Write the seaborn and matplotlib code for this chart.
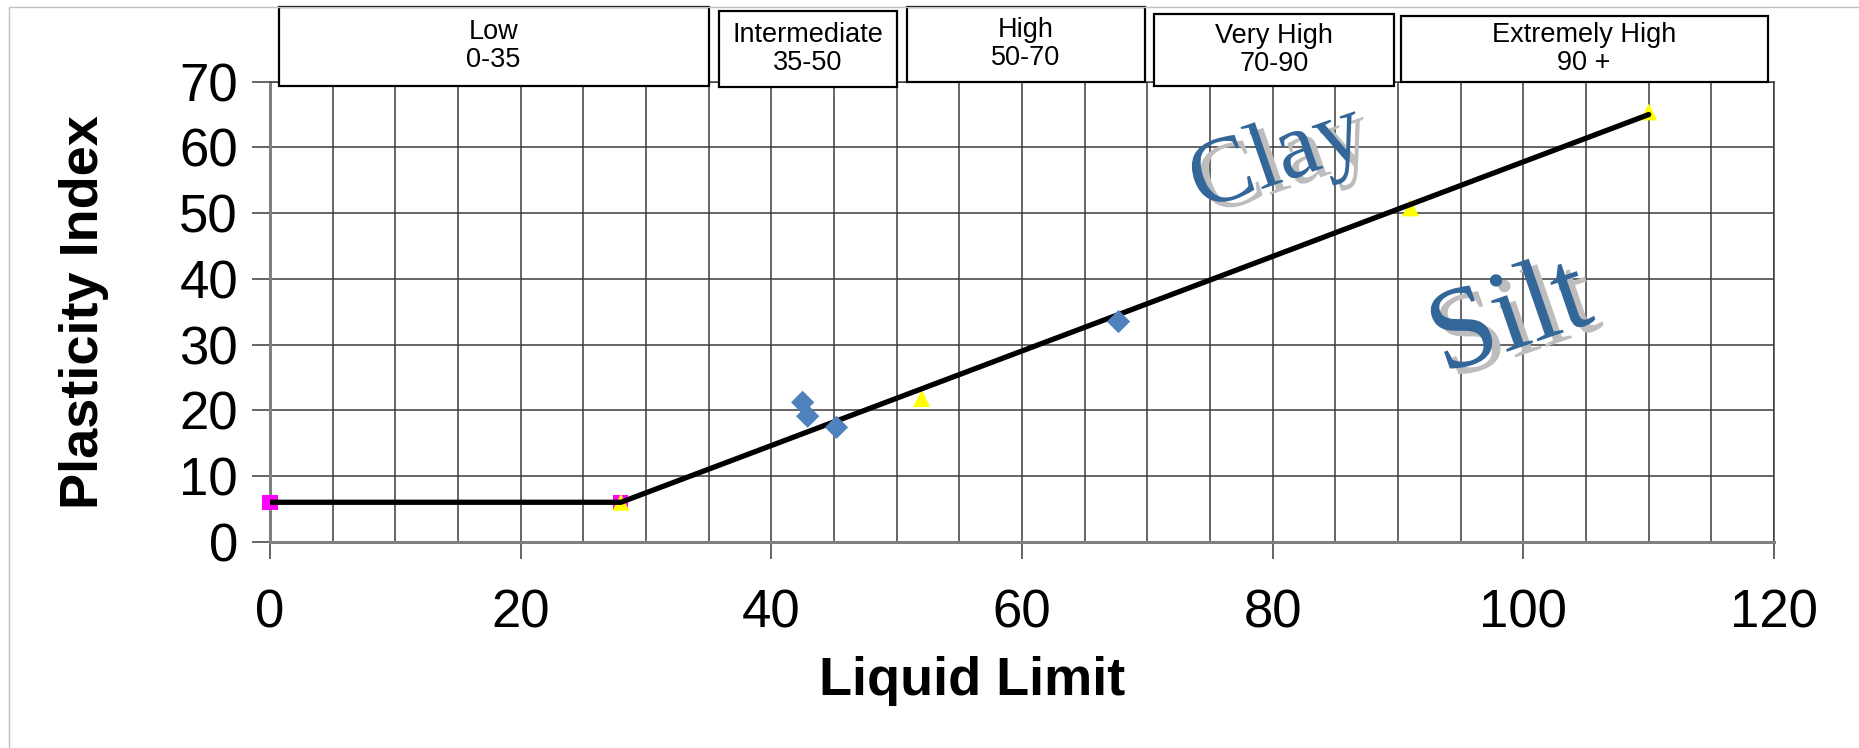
import matplotlib
matplotlib.use("Agg")

import matplotlib.pyplot as plt
import matplotlib.patheffects as pe
from matplotlib.patches import Rectangle
from matplotlib.ticker import MultipleLocator
import seaborn as sns
import pandas as pd

# sample points (blue diamonds)
sample_ll = [42.5, 42.9, 45.2, 67.7]
sample_pi = [21.2, 19.1, 17.4, 33.5]

# A-line break points (magenta squares)
square_ll = [0, 28]
square_pi = [6, 6]

# A-line reference points (yellow triangles)
tri_ll = [28, 52, 91, 110]
tri_pi = [6, 21.8, 50.8, 65.4]

# A-line itself
aline_ll = [0, 28, 110]
aline_pi = [6, 6, 65]

# plasticity zones along the top
zone_names = ["Low", "Intermediate", "High", "Very High", "Extremely High"]
zone_ranges = ["0-35", "35-50", "50-70", "70-90", "90 +"]
zone_start = [0, 35, 50, 70, 90]
zone_end = [35, 50, 70, 90, 120]

x_ticks = [0, 20, 40, 60, 80, 100, 120]
y_ticks = [0, 10, 20, 30, 40, 50, 60, 70]

sns.set_theme(style="white")
plt.rcParams['font.family'] = ['Liberation Sans', 'DejaVu Sans']

fig = plt.figure(figsize=(18.59, 7.48), dpi=100)
ax = fig.add_axes([0.1452, 0.2758, 0.8091, 0.615])

df_line = pd.DataFrame({"ll": aline_ll, "pi": aline_pi})
df_sq = pd.DataFrame({"ll": square_ll, "pi": square_pi})
df_tri = pd.DataFrame({"ll": tri_ll, "pi": tri_pi})
df_smp = pd.DataFrame({"ll": sample_ll, "pi": sample_pi})

sns.scatterplot(data=df_sq, x="ll", y="pi", marker="s", s=120, color="#ff00ff",
                edgecolor="none", ax=ax, zorder=3, clip_on=False)
sns.scatterplot(data=df_tri, x="ll", y="pi", marker="^", s=150, color="#ffff00",
                edgecolor="none", ax=ax, zorder=4, clip_on=False)
sns.lineplot(data=df_line, x="ll", y="pi", sort=False, estimator=None, color="black",
             linewidth=3.8, ax=ax, zorder=5)
sns.scatterplot(data=df_smp, x="ll", y="pi", marker="D", s=140, color="#4f81bd",
                edgecolor="none", ax=ax, zorder=6, clip_on=False)

ax.set_xlim(0, 120)
ax.set_ylim(0, 70)
ax.set_xticks(x_ticks)
ax.set_yticks(y_ticks)
ax.xaxis.set_minor_locator(MultipleLocator(5))
ax.grid(True, which="both", axis="x", color="#3c3c3c", linewidth=1.1)
ax.grid(True, which="major", axis="y", color="#3c3c3c", linewidth=1.1)
ax.set_axisbelow(True)

for side in ["top", "right"]:
    ax.spines[side].set_color("#3c3c3c")
    ax.spines[side].set_linewidth(1.1)
for side in ["left", "bottom"]:
    ax.spines[side].set_color("#808080")
    ax.spines[side].set_linewidth(2.2)

ax.tick_params(axis="x", which="major", direction="out", length=12, width=1.2,
               color="#4a4a4a", labelsize=38, pad=22, bottom=True)
ax.tick_params(axis="x", which="minor", length=0)
ax.tick_params(axis="y", which="major", direction="out", length=13, width=1.2,
               color="#4a4a4a", labelsize=38, pad=10, left=True)

ax.set_xlabel("Liquid Limit", fontsize=39, fontweight="bold", color="black")
ax.set_ylabel("Plasticity Index", fontsize=39, fontweight="bold", color="black")
ax.xaxis.set_label_coords(0.467, -0.248)
ax.yaxis.set_label_coords(-0.107, 0.5)
for lbl in ax.get_xticklabels() + ax.get_yticklabels():
    lbl.set_color("black")

# zone boxes above the plot
box_pad = [0.7, 0.8, 0.8, 0.5, 0.2]
box_pad_r = [0.0, 0.0, 0.2, 0.3, 0.5]
box_bottom = [69.35, 69.2, 69.97, 69.3, 69.97]
box_top = [81.4, 80.8, 81.4, 80.3, 80.06]
for name, rng, x0, x1, pl, pr, b, t in zip(zone_names, zone_ranges, zone_start, zone_end,
                                           box_pad, box_pad_r, box_bottom, box_top):
    left = x0 + pl
    right = x1 - pr
    ax.add_patch(Rectangle((left, b), right - left, t - b, facecolor="white",
                           edgecolor="black", linewidth=1.6, clip_on=False, zorder=10))
    ax.text((left + right) / 2, (b + t) / 2, f"{name}\n{rng}", ha="center", va="center",
            fontsize=19.5, linespacing=1.1, color="black", clip_on=False, zorder=11)

shadow = [pe.SimplePatchShadow(offset=(6, -4), shadow_rgbFace="#bdbdbd", alpha=1.0), pe.Normal()]
ax.text(80.4, 58.1, "Clay", family="Liberation Serif", fontsize=68, color="#336699",
        rotation=19, ha="center", va="center", rotation_mode="anchor",
        path_effects=shadow, zorder=7)
ax.text(99.0, 33.6, "Silt", family="Liberation Serif", fontsize=84, color="#336699",
        rotation=19, ha="center", va="center", rotation_mode="anchor",
        path_effects=shadow, zorder=7)

# outer chart border
fig.patches.append(Rectangle((9 / 1859, -0.05), 1.1, 1 - 7 / 748 + 0.05,
                             transform=fig.transFigure, fill=False,
                             edgecolor="#bfbfbf", linewidth=1.0))

fig.savefig("out.png", dpi=100)
